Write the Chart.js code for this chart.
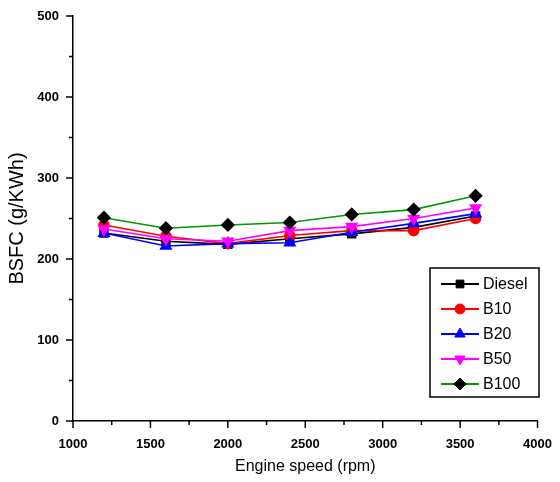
<!DOCTYPE html>
<html>
<head>
<meta charset="utf-8">
<script src="https://cdn.jsdelivr.net/npm/chart.js@4/dist/chart.umd.min.js"></script>
<style>
  body { margin: 0; background: #fff; }
  #wrap { width: 560px; height: 482px; }
</style>
</head>
<body>
<div id="wrap"><canvas id="bsfc"></canvas></div>
<script>
// engine speed (rpm)
speed = [1200, 1600, 2000, 2400, 2800, 3200, 3600];

// BSFC (g/kWh)
diesel = [232, 222, 218, 225, 231, 239, 253];
b10    = [242, 228, 219, 229, 235, 235, 250];
b20    = [232, 216, 219, 220, 233, 244, 256];
b50    = [237, 225, 222, 235, 240, 250, 263];
b100   = [251, 238, 242, 245, 255, 261, 278];

yMajor = [0, 100, 200, 300, 400, 500];
xMajor = [1000, 1500, 2000, 2500, 3000, 3500, 4000];

function pts(vals) {
  var out = [];
  for (var i in vals) out.push({x: speed[i], y: vals[i]});
  return out;
}

function series(label, vals, line, fill, style, radius, rot, order) {
  return {
    label: label,
    data: pts(vals),
    borderColor: line,
    backgroundColor: fill,
    pointBackgroundColor: fill,
    pointBorderColor: fill,
    pointStyle: style,
    pointRadius: radius,
    pointRotation: rot,
    borderWidth: 1.6,
    tension: 0,
    fill: false,
    order: order
  };
}

// outward major/minor tick marks, like the original plot
var tickMarks = {
  id: 'tickMarks',
  afterDraw: function(chart) {
    var ctx = chart.ctx, xs = chart.scales.x, ys = chart.scales.y;
    var a = chart.chartArea;
    ctx.save();
    ctx.strokeStyle = '#000';
    ctx.lineWidth = 1.5;
    for (var v = 0; v <= 500; v += 50) {
      var py = ys.getPixelForValue(v);
      var len = (v % 100 == 0) ? 7 : 4;
      ctx.beginPath(); ctx.moveTo(a.left, py); ctx.lineTo(a.left - len, py); ctx.stroke();
    }
    for (var u = 1000; u <= 4000; u += 250) {
      var px = xs.getPixelForValue(u);
      var l2 = (u % 500 == 0) ? 7 : 4;
      ctx.beginPath(); ctx.moveTo(px, a.bottom); ctx.lineTo(px, a.bottom + l2); ctx.stroke();
    }
    ctx.restore();
  }
};

// boxed legend inside the plot, lower right
var boxLegend = {
  id: 'boxLegend',
  afterDraw: function(chart) {
    var ctx = chart.ctx;
    var left = 430, top = 268, w = 109, h = 129;
    ctx.save();
    ctx.strokeStyle = '#000';
    ctx.lineWidth = 1.5;
    ctx.strokeRect(left, top, w, h);
    ctx.font = '16px "Liberation Sans", Arial, sans-serif';
    ctx.textBaseline = 'middle';
    chart.data.datasets.forEach(function(ds, i) {
      var y = top + 16 + i * 25;
      ctx.strokeStyle = ds.borderColor;
      ctx.lineWidth = 2;
      ctx.beginPath(); ctx.moveTo(left + 11, y); ctx.lineTo(left + 49, y); ctx.stroke();
      ctx.fillStyle = ds.pointBackgroundColor;
      ctx.strokeStyle = ds.pointBorderColor;
      ctx.lineWidth = 1;
      Chart.helpers.drawPoint(ctx, {
        pointStyle: ds.pointStyle, radius: ds.pointRadius,
        rotation: ds.pointRotation, borderWidth: 1
      }, left + 30, y);
      ctx.fillStyle = '#000';
      ctx.fillText(ds.label, left + 53, y + 1);
    });
    ctx.restore();
  }
};

var tickFont = { family: '"Liberation Sans", Arial, sans-serif', size: 13, weight: 'bold' };

new Chart(document.getElementById('bsfc'), {
  type: 'line',
  data: {
    datasets: [
      series('Diesel', diesel, '#000000', '#000000', 'rect', 5.5, 0, 5),
      series('B10', b10, '#ff0000', '#ff0000', 'circle', 5, 0, 4),
      series('B20', b20, '#0000ff', '#0000ff', 'triangle', 6, 0, 3),
      series('B50', b50, '#ff00ff', '#ff00ff', 'triangle', 6, 180, 2),
      series('B100', b100, '#009900', '#000000', 'rectRot', 6, 0, 1)
    ]
  },
  options: {
    responsive: true,
    maintainAspectRatio: false,
    animation: false,
    layout: { padding: { left: 0, top: 16, right: 18, bottom: 0 } },
    plugins: {
      legend: { display: false },
      tooltip: { enabled: false }
    },
    scales: {
      x: {
        type: 'linear',
        min: 1000, max: 4000,
        afterFit: function(s) { s.height = 61; },
        afterBuildTicks: function(s) { s.ticks = xMajor.map(function(v) { return {value: v}; }); },
        grid: { display: false },
        border: { display: true, color: '#000', width: 1.5 },
        ticks: {
          color: '#000', padding: 8, maxRotation: 0, font: tickFont,
          callback: function(v) { return String(v); }
        },
        title: {
          display: true, text: 'Engine speed (rpm)', color: '#000',
          font: { family: '"Liberation Sans", Arial, sans-serif', size: 16 },
          padding: { top: 0, bottom: 6 }
        }
      },
      y: {
        min: 0, max: 500,
        afterFit: function(s) { s.width = 73; },
        afterBuildTicks: function(s) { s.ticks = yMajor.map(function(v) { return {value: v}; }); },
        grid: { display: false },
        border: { display: true, color: '#000', width: 1.5 },
        ticks: {
          color: '#000', padding: 6, font: tickFont,
          callback: function(v) { return String(v); }
        },
        title: {
          display: true, text: 'BSFC (g/KWh)', color: '#000',
          font: { family: '"Liberation Sans", Arial, sans-serif', size: 20 },
          padding: { top: 5, bottom: 0 }
        }
      }
    }
  },
  plugins: [tickMarks, boxLegend]
});
</script>
</body>
</html>
